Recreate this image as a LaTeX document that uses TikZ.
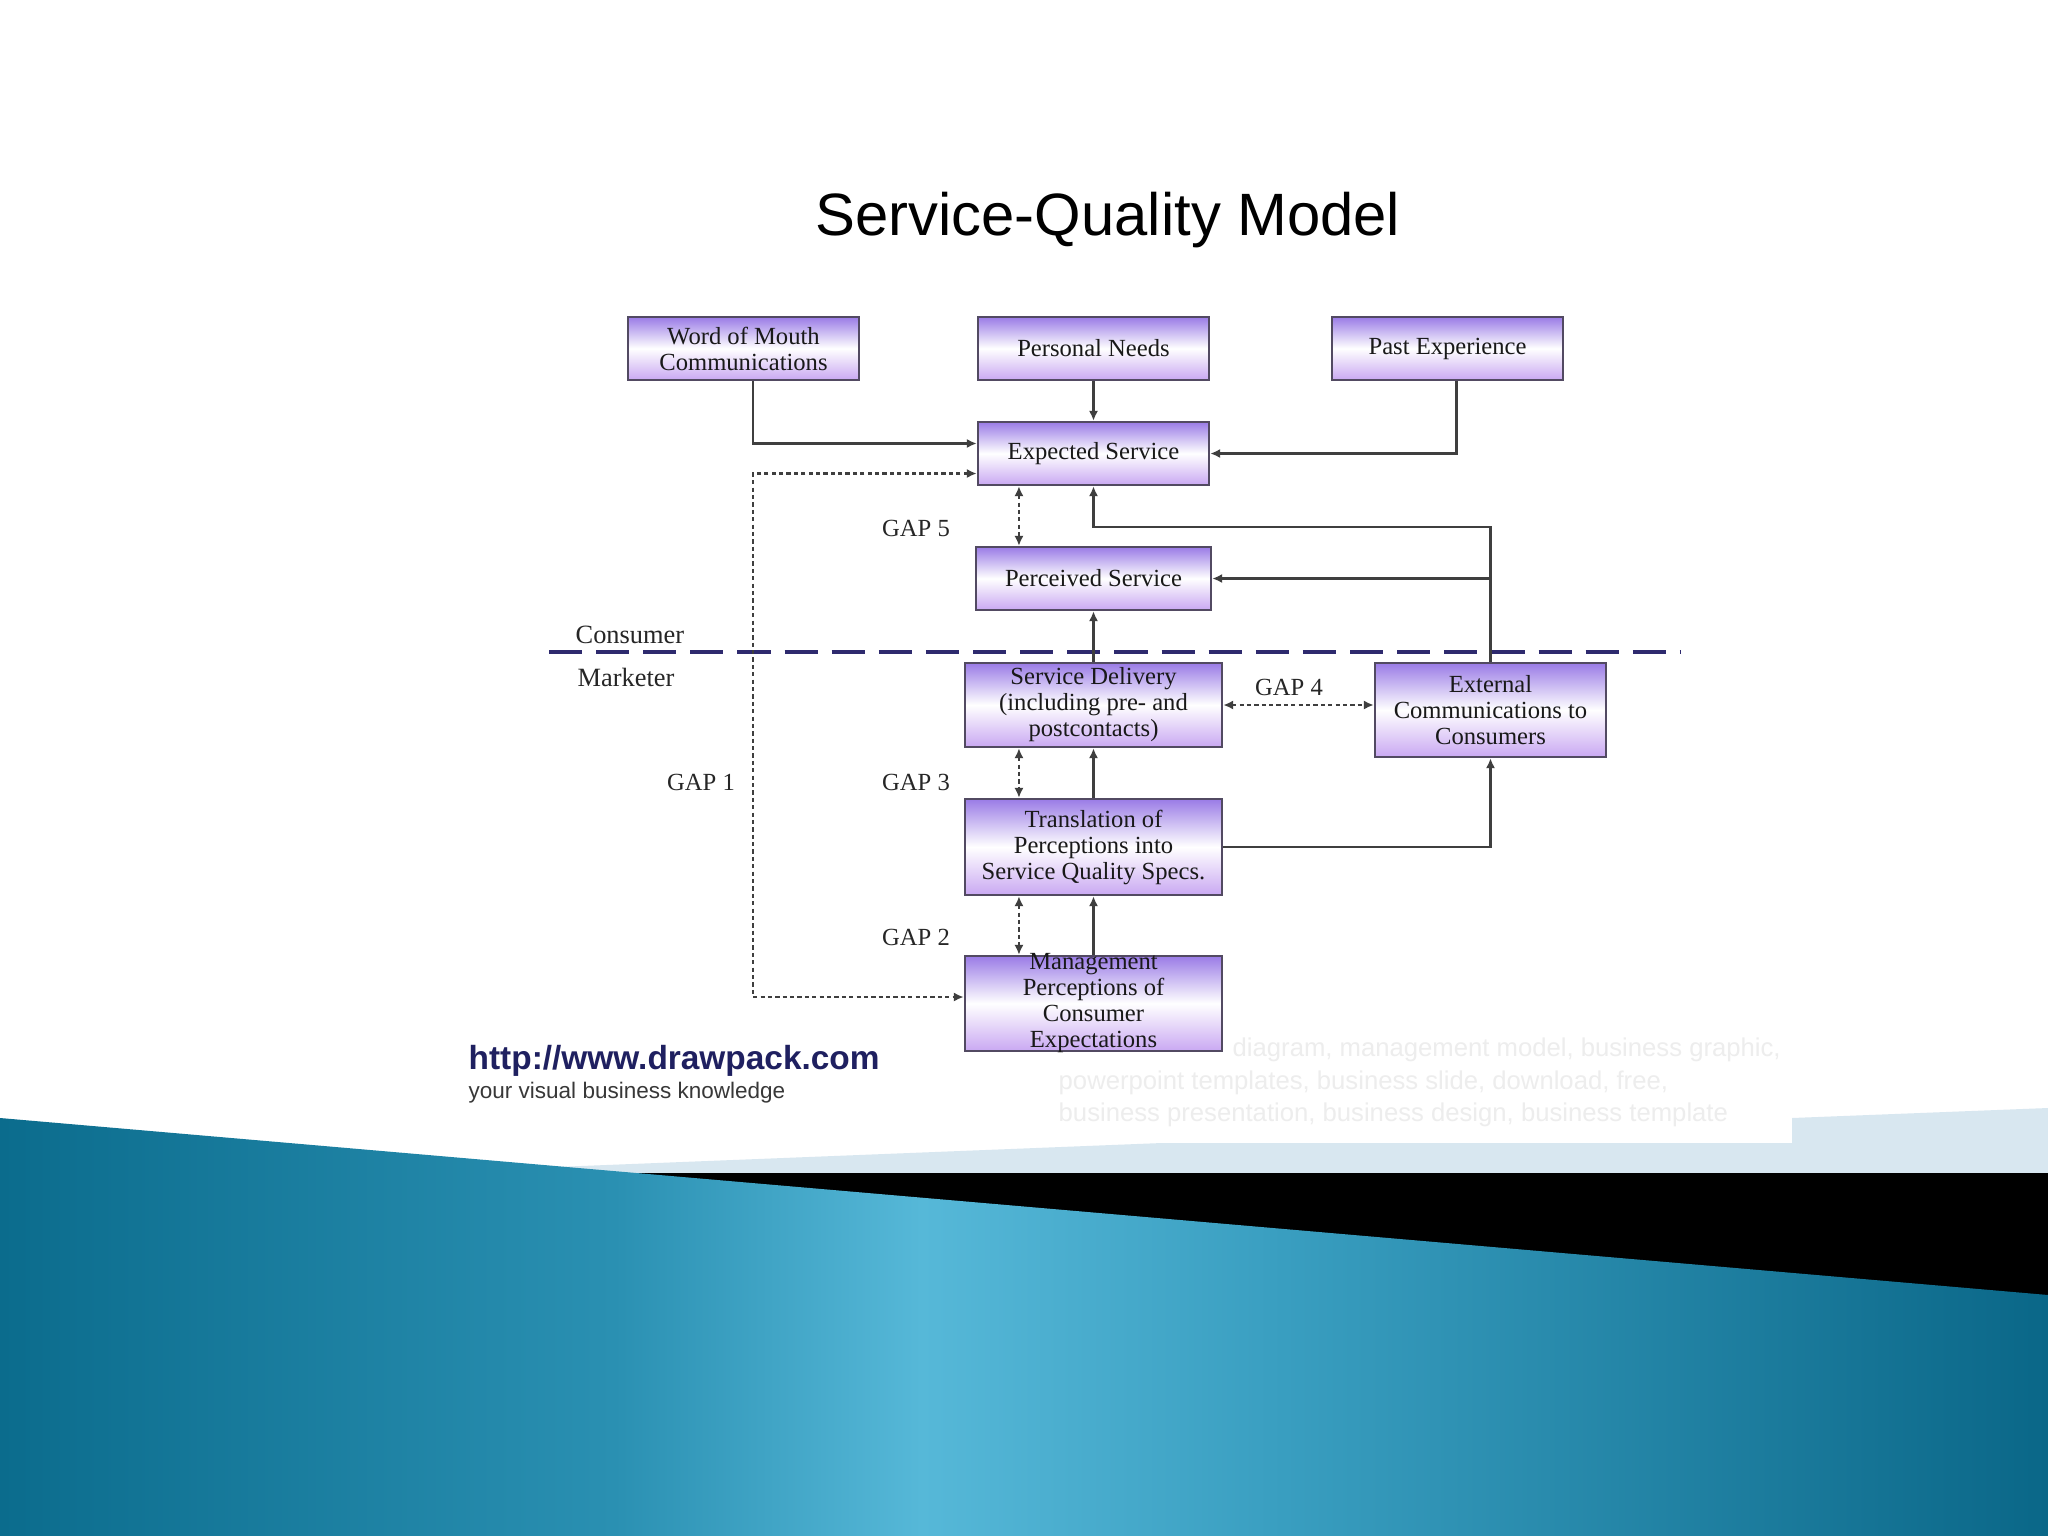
\documentclass[tikz,border=0pt]{standalone}
\usepackage{fontspec}
\setmainfont{Liberation Serif}
\setsansfont{Liberation Sans}
\usetikzlibrary{arrows.meta}
\definecolor{boxtop}{HTML}{9A7BE6}
\definecolor{boxbot}{HTML}{C9A8F2}
\definecolor{boxline}{HTML}{524A62}
\definecolor{linkgray}{HTML}{3F3F3F}
\definecolor{sepnavy}{HTML}{2E2A6E}
\definecolor{urlnavy}{HTML}{1F2060}
\definecolor{bandlight}{HTML}{D8E7F0}
\definecolor{tealdark}{HTML}{0B6C8D}
\definecolor{tealmid}{HTML}{2A90B2}
\definecolor{teallight}{HTML}{56B8D8}
\definecolor{tealmidr}{HTML}{3A9FC1}
\definecolor{tealright}{HTML}{0A6788}
\pgfdeclarehorizontalshading{tealband}{100bp}{color(0bp)=(tealdark); color(25bp)=(tealdark); color(40bp)=(tealmid); color(47.5bp)=(teallight); color(56bp)=(tealmidr); color(75bp)=(tealright); color(100bp)=(tealright)}
\begin{document}
\begin{tikzpicture}[x=0.01cm, y=-0.01cm,
    qbox/.style={draw=boxline, line width=0.7pt, top color=boxtop, bottom color=boxbot, middle color=white, align=center, text=black!90, font=\fontsize{7}{7.4}\selectfont, inner sep=0pt},
    conn/.style={draw=linkgray, line width=0.6pt, -{Latex[length=2.8pt,width=2.6pt]}},
    gap/.style={draw=linkgray, line width=0.6pt, dash pattern=on 1.2pt off 0.9pt, {Latex[length=2.8pt,width=2.6pt]}-{Latex[length=2.8pt,width=2.6pt]}},
    lbl/.style={font=\fontsize{7}{8}\selectfont, text=black!85, inner sep=0pt},
    wmark/.style={anchor=base west, font=\sffamily\fontsize{7.3}{9.1}\selectfont, text=black!7, inner sep=0pt}]
  \useasboundingbox (0,0) rectangle (2048,1536);
  \fill[white] (0,0) rectangle (2048,1536);
  \fill[bandlight] (480,1170) -- (1162,1143) -- (1792,1143) -- (1792,1118) -- (2048,1108) -- (2048,1180) -- (480,1180) -- cycle;
  \fill[black] (600,1173) rectangle (2048,1310);
  \shade[shading=tealband] (0,1118) -- (2048,1295) -- (2048,1536) -- (0,1536) -- cycle;
  \node[wmark] (wm1) at (1232,1056) {diagram, management model, business graphic,};
  \node[wmark] (wm2) at (1058,1089) {powerpoint templates, business slide, download, free,};
  \node[wmark] (wm3) at (1058,1121) {business presentation, business design, business template};

  \node[font=\sffamily\fontsize{17}{20}\selectfont, anchor=base, inner sep=0pt] (title) at (1108,235) {Service-Quality Model};

  \node[qbox, minimum width=2.31cm, minimum height=0.63cm] (wom) at (743.5,348.5) {Word of Mouth\\Communications};
  \node[qbox, minimum width=2.31cm, minimum height=0.63cm] (pn) at (1093.5,348.5) {Personal Needs};
  \node[qbox, minimum width=2.31cm, minimum height=0.63cm] (pe) at (1447.5,348.5) {Past Experience};
  \node[qbox, minimum width=2.31cm, minimum height=0.63cm] (es) at (1093.5,453.5) {Expected Service};
  \node[qbox, minimum width=2.35cm, minimum height=0.63cm] (ps) at (1093.5,578.5) {Perceived Service};
  \node[qbox, minimum width=2.57cm, minimum height=0.84cm] (sd) at (1093.5,705) {Service Delivery\\(including pre- and\\postcontacts)};
  \node[qbox, minimum width=2.31cm, minimum height=0.94cm] (ec) at (1490.5,710) {External\\Communications to\\Consumers};
  \node[qbox, minimum width=2.57cm, minimum height=0.96cm] (tr) at (1093.5,847) {Translation of\\Perceptions into\\Service Quality Specs.};
  \node[qbox, minimum width=2.57cm, minimum height=0.95cm] (mp) at (1093.5,1003.5) {};
  \node[lbl, align=center, text=black!90, font=\fontsize{7}{7.4}\selectfont] (mptext) at (mp) {Management\\Perceptions of\\Consumer\\Expectations};

  \node[lbl, font=\fontsize{7.5}{9}\selectfont, anchor=west] (cons) at (575,635) {Consumer};
  \node[lbl, font=\fontsize{7.5}{9}\selectfont, anchor=west] (mark) at (577,677) {Marketer};
  \node[lbl] (g5) at (916,528) {GAP 5};
  \node[lbl] (g4) at (1289,687) {GAP 4};
  \node[lbl] (g1) at (701,782) {GAP 1};
  \node[lbl] (g3) at (916,782) {GAP 3};
  \node[lbl] (g2) at (916,937) {GAP 2};

  \coordinate (sepl) at (549,652);
  \coordinate (sepr) at (1680,652);
  \draw[sepnavy, line width=1.15pt, dash pattern=on 9.4pt off 4pt] (sepl) -- (sepr);

  \coordinate (gcorner) at (753,997);
  \coordinate (fb) at (1093.5,527);
  \draw[conn] (wom.south -| gcorner) |- ([yshift=0.1cm]es.west);
  \draw[conn] (pn) -- (es);
  \draw[conn] ([xshift=0.09cm]pe.south) |- (es.east);
  \draw[conn] (ec.north) |- (fb) -- (es.south);
  \draw[conn] (ec.north |- ps.east) -- (ps.east);
  \draw[conn] (sd) -- (ps);
  \draw[conn] (tr) -- (sd);
  \draw[conn] (mp) -- (tr);
  \draw[conn] (tr.east) -| (ec.south);

  \draw[gap] ([xshift=-0.745cm]es.south) -- ([xshift=-0.745cm]ps.north);
  \draw[gap] ([xshift=-0.745cm]sd.south) -- ([xshift=-0.745cm]tr.north);
  \draw[gap] ([xshift=-0.745cm]tr.south) -- ([xshift=-0.745cm]mp.north);
  \draw[gap] (sd.east) -- (sd.east -| ec.west);
  \draw[gap] ([yshift=-0.2cm]es.west) -| (gcorner) -- (gcorner -| mp.west);

  \node[anchor=base west, inner sep=0pt, font=\sffamily\bfseries\fontsize{9.5}{11}\selectfont, text=urlnavy] (url) at (468,1069) {http://www.drawpack.com};
  \node[anchor=base west, inner sep=0pt, font=\sffamily\fontsize{6.4}{8}\selectfont, text=black!78] (tag) at (468,1098) {your visual business knowledge};
\end{tikzpicture}
\end{document}
